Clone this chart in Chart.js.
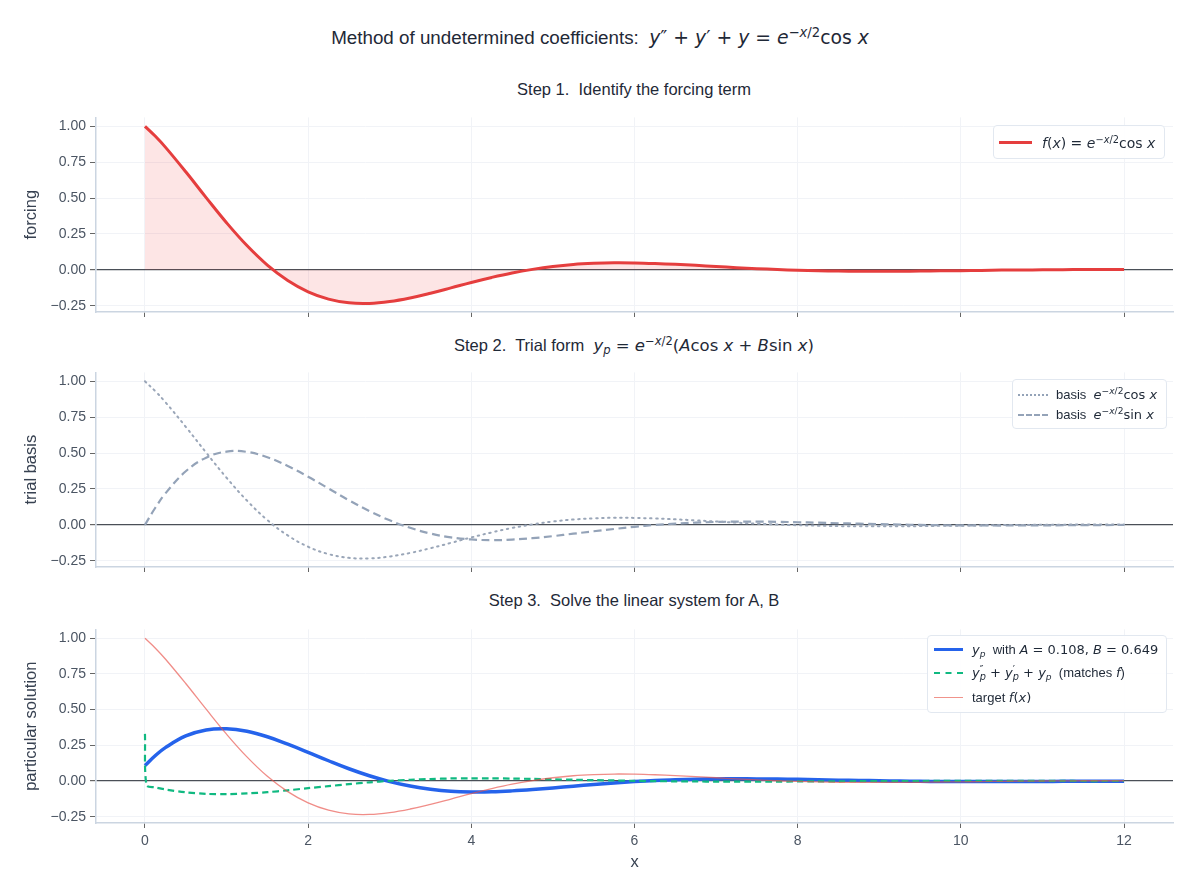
<!DOCTYPE html>
<html>
<head>
<meta charset="utf-8">
<script src="https://cdn.jsdelivr.net/npm/chart.js@4.4.1/dist/chart.umd.min.js"></script>
<style>
  html, body { margin: 0; padding: 0; background: #fff; }
  body { width: 1200px; height: 895px; position: relative; overflow: hidden;
         font-family: "Liberation Sans", Arial, sans-serif; color: #1f2937; }
  canvas { position: absolute; left: 0; }
  .m { font-family: "DejaVu Sans", sans-serif; }
  .m i { font-style: italic; }
  .m sup { font-size: 0.7em; vertical-align: 0.55em; line-height: 0; }
  .m sub { font-size: 0.7em; vertical-align: -0.3em; line-height: 0; }
  .stk { display: inline-block; vertical-align: -0.35em; line-height: 0.8em; font-size: 0.75em; text-align: left; }
  .stk span { display: block; }
  .title { position: absolute; left: 0; width: 1200px; text-align: center; white-space: nowrap; }
  .sub { position: absolute; left: 95px; width: 1078px; text-align: center; font-size: 16.5px; color: #1f2937; white-space: nowrap; }
  .legend { position: absolute; background: rgba(255,255,255,0.92); border: 1px solid #e2e8f0;
            border-radius: 4px; font-size: 13px; color: #1f2937; box-sizing: border-box; }
  .row { position: absolute; left: 0; right: 0; height: 20px; }
  .swatch { position: absolute; top: 9px; height: 0; }
  .lbl { position: absolute; top: 1px; white-space: nowrap; line-height: 18px; }
</style>
</head>
<body>

<div class="title" style="top:27px; font-size:18.8px;">Method of undetermined coefficients:&nbsp; <span class="m"><i>y</i>″ + <i>y</i>′ + <i>y</i> = <i>e</i><sup>−<i>x</i>/2</sup>cos <i>x</i></span></div>

<div class="sub" style="top:80px;">Step 1.&nbsp; Identify the forcing term</div>
<div class="sub" style="top:336px;">Step 2.&nbsp; Trial form&nbsp; <span class="m"><i>y</i><sub><i>p</i></sub> = <i>e</i><sup>−<i>x</i>/2</sup>(<i>A</i>cos <i>x</i> + <i>B</i>sin <i>x</i>)</span></div>
<div class="sub" style="top:591px;">Step 3.&nbsp; Solve the linear system for A, B</div>

<canvas id="c1" style="top:105px" width="1200" height="220"></canvas>
<canvas id="c2" style="top:360px" width="1200" height="220"></canvas>
<canvas id="c3" style="top:617px" width="1200" height="255"></canvas>

<div class="legend" style="left:993px; top:125px; width:172px; height:34px;">
  <div class="row" style="top:7px;">
    <div class="swatch" style="left:5px; width:33px; border-top:3px solid #e53e3e; top:8px;"></div>
    <div class="lbl m" style="left:48px; font-size:14px;"><i>f</i>(<i>x</i>) = <i>e</i><sup>−<i>x</i>/2</sup>cos <i>x</i></div>
  </div>
</div>

<div class="legend" style="left:1012px; top:379px; width:155px; height:50px;">
  <div class="row" style="top:5px;">
    <div class="swatch" style="left:5px; width:30px; border-top:2px dotted #94a3b8;"></div>
    <div class="lbl" style="left:43px;">basis&nbsp; <span class="m"><i>e</i><sup>−<i>x</i>/2</sup>cos <i>x</i></span></div>
  </div>
  <div class="row" style="top:25px;">
    <div class="swatch" style="left:5px; width:30px; border-top:2px dashed #94a3b8;"></div>
    <div class="lbl" style="left:43px;">basis&nbsp; <span class="m"><i>e</i><sup>−<i>x</i>/2</sup>sin <i>x</i></span></div>
  </div>
</div>

<div class="legend" style="left:927px; top:635px; width:240px; height:78px;">
  <div class="row" style="top:4px;">
    <div class="swatch" style="left:6px; width:29px; border-top:3.5px solid #2563eb; top:8px;"></div>
    <div class="lbl" style="left:44px;"><span class="m"><i>y</i><sub><i>p</i></sub></span>&nbsp; with <span class="m"><i>A</i> = 0.108, <i>B</i> = 0.649</span></div>
  </div>
  <div class="row" style="top:27px;">
    <div class="swatch" style="left:6px; width:29px; border-top:2px dashed #10b981;"></div>
    <div class="lbl" style="left:44px;"><span class="m"><i>y</i><span class="stk"><span>″</span><span><i>p</i></span></span> + <i>y</i><span class="stk"><span>′</span><span><i>p</i></span></span> + <i>y</i><sub><i>p</i></sub></span>&nbsp; (matches <span class="m"><i>f</i></span>)</div>
  </div>
  <div class="row" style="top:52px;">
    <div class="swatch" style="left:6px; width:29px; border-top:1px solid #f0938b;"></div>
    <div class="lbl" style="left:44px;">target <span class="m"><i>f</i>(<i>x</i>)</span></div>
  </div>
</div>

<script>
// ---- data ----
const xs = [0, 0.125, 0.25, 0.5, 0.75, 1, 1.25, 1.5, 1.75, 2, 2.25, 2.5, 2.75, 3, 3.25, 3.5, 3.75,
  4, 4.25, 4.5, 4.75, 5, 5.25, 5.5, 5.75, 6, 6.25, 6.5, 6.75, 7, 7.25, 7.5, 7.75,
  8, 8.25, 8.5, 8.75, 9, 9.25, 9.5, 9.75, 10, 10.25, 10.5, 10.75, 11, 11.25, 11.5, 11.75, 12];

// e^{-x/2} cos x  (forcing, cos basis, target)
const forcing = [1.000, 0.932, 0.855, 0.683, 0.503, 0.328, 0.169, 0.033, -0.074, -0.153, -0.204, -0.230, -0.234,
  -0.221, -0.196, -0.163, -0.126, -0.088, -0.053, -0.022, 0.003, 0.023, 0.037, 0.045, 0.049,
  0.048, 0.044, 0.038, 0.031, 0.023, 0.015, 0.008, 0.002, -0.003, -0.006, -0.009, -0.010,
  -0.010, -0.010, -0.009, -0.007, -0.006, -0.004, -0.002, -0.001, 0.000, 0.001, 0.002, 0.002, 0.002];

// e^{-x/2} sin x
const basisSin = [0.000, 0.117, 0.218, 0.373, 0.468, 0.510, 0.508, 0.471, 0.410, 0.335, 0.253, 0.171, 0.096,
  0.031, -0.021, -0.061, -0.088, -0.102, -0.107, -0.103, -0.093, -0.079, -0.062, -0.045, -0.029,
  -0.014, -0.001, 0.008, 0.015, 0.020, 0.022, 0.022, 0.021, 0.018, 0.015, 0.011, 0.008,
  0.005, 0.002, -0.001, -0.003, -0.004, -0.004, -0.005, -0.004, -0.004, -0.003, -0.003, -0.002, -0.001];

// y_p with A = 0.108, B = 0.649
const particular = [0.108, 0.177, 0.234, 0.316, 0.358, 0.366, 0.348, 0.310, 0.258, 0.201, 0.142, 0.086, 0.037,
  -0.004, -0.035, -0.057, -0.071, -0.076, -0.075, -0.069, -0.060, -0.049, -0.036, -0.024, -0.014,
  -0.004, 0.004, 0.009, 0.013, 0.015, 0.016, 0.015, 0.014, 0.012, 0.009, 0.006, 0.004,
  0.002, 0.000, -0.002, -0.003, -0.003, -0.003, -0.003, -0.003, -0.003, -0.002, -0.002, -0.001, -0.001];

// y_p'' + y_p' + y_p  (has a spike at the first sample)
const residualX = [0, 0.02, 0.125, 0.25, 0.5, 0.75, 1, 1.25, 1.5, 1.75, 2, 2.25, 2.5, 2.75, 3, 3.25, 3.5, 3.75,
  4, 4.25, 4.5, 4.75, 5, 5.25, 5.5, 5.75, 6, 6.25, 6.5, 6.75, 7, 7.25, 7.5, 7.75,
  8, 8.25, 8.5, 8.75, 9, 9.25, 9.5, 9.75, 10, 10.25, 10.5, 10.75, 11, 11.25, 11.5, 11.75, 12];
const residual = [0.330, -0.030, -0.044, -0.059, -0.079, -0.090, -0.092, -0.087, -0.078, -0.065, -0.050, -0.036, -0.022,
  -0.009, 0.001, 0.009, 0.014, 0.018, 0.019, 0.019, 0.017, 0.015, 0.012, 0.009, 0.006,
  0.004, 0.001, -0.001, -0.002, -0.003, -0.004, -0.004, -0.004, -0.004, -0.003, -0.002, -0.002,
  -0.001, -0.001, 0.000, 0.000, 0.001, 0.001, 0.001, 0.001, 0.001, 0.001, 0.001, 0.000, 0.000, 0.000];

const yTicks = [-0.25, 0, 0.25, 0.5, 0.75, 1.0];
const xTicks = [0, 2, 4, 6, 8, 10, 12];
const yRange = [-0.294, 1.062];
const xRange = [-0.6, 12.6];

// ---- helpers ----
const pts = (x, y) => x.map((v, i) => ({ x: v, y: y[i] }));
const fmtY = v => (v < 0 ? "\u2212" : "") + Math.abs(v).toFixed(2);

function makeOptions(yTitle, showX) {
  return {
    responsive: false,
    animation: false,
    events: [],
    layout: { padding: { top: 7, right: 27, left: 0, bottom: 0 } },
    plugins: { legend: { display: false }, tooltip: { enabled: false } },
    elements: { point: { radius: 0 }, line: { tension: 0.4, borderJoinStyle: "round" } },
    scales: {
      x: {
        type: "linear", min: xRange[0], max: xRange[1],
        afterBuildTicks: s => { s.ticks = xTicks.map(v => ({ value: v })); },
        afterFit: s => { s.height = showX ? 49 : 13; },
        border: { display: true, color: "#cbd5e1", width: 1.5 },
        grid: { color: "#f1f3f7", lineWidth: 1, tickLength: 5, tickColor: "#666" },
        ticks: { display: showX, color: "#4b5563", padding: 5, font: { size: 14, family: "Liberation Sans" } },
        title: { display: showX, text: "x", color: "#374151", padding: { top: 0, bottom: 0 }, font: { size: 16.5, family: "Liberation Sans" } }
      },
      y: {
        min: yRange[0], max: yRange[1],
        afterBuildTicks: s => { s.ticks = yTicks.map(v => ({ value: v })); },
        afterFit: s => { s.width = 96; },
        border: { display: true, color: "#cbd5e1", width: 1.5 },
        grid: {
          color: c => (c.tick && c.tick.value === 0 ? "#4a4f57" : "#f1f3f7"),
          lineWidth: c => (c.tick && c.tick.value === 0 ? 1.2 : 1),
          tickLength: 6, tickColor: "#666"
        },
        ticks: { color: "#4b5563", padding: 4, callback: v => fmtY(v), font: { size: 14, family: "Liberation Sans" } },
        title: { display: true, text: yTitle, color: "#374151", padding: { top: 22, bottom: 0 }, font: { size: 16.5, family: "Liberation Sans" } }
      }
    }
  };
}

// ---- panel 1: forcing ----
new Chart(document.getElementById("c1"), {
  type: "line",
  data: {
    datasets: [{
      data: pts(xs, forcing),
      borderColor: "#e53e3e", borderWidth: 3,
      fill: { value: 0 }, backgroundColor: "rgba(239,68,68,0.14)"
    }]
  },
  options: makeOptions("forcing", false)
});

// ---- panel 2: trial basis ----
new Chart(document.getElementById("c2"), {
  type: "line",
  data: {
    datasets: [
      { data: pts(xs, forcing), borderColor: "#9aa6b8", borderWidth: 2, borderDash: [1.5, 4.5], borderCapStyle: "round", fill: false },
      { data: pts(xs, basisSin), borderColor: "#94a3b8", borderWidth: 2.2, borderDash: [8, 4.5], fill: false }
    ]
  },
  options: makeOptions("trial basis", false)
});

// ---- panel 3: particular solution ----
new Chart(document.getElementById("c3"), {
  type: "line",
  data: {
    datasets: [
      { data: pts(xs, particular), borderColor: "#2563eb", borderWidth: 3.5, fill: false, order: 2 },
      { data: pts(residualX, residual), borderColor: "#10b981", borderWidth: 2.2, borderDash: [6.5, 4], fill: false, order: 1, tension: 0.3 },
      { data: pts(xs, forcing), borderColor: "rgba(232,80,72,0.65)", borderWidth: 1.3, fill: false, order: 0 }
    ]
  },
  options: makeOptions("particular solution", true)
});
</script>
</body>
</html>
